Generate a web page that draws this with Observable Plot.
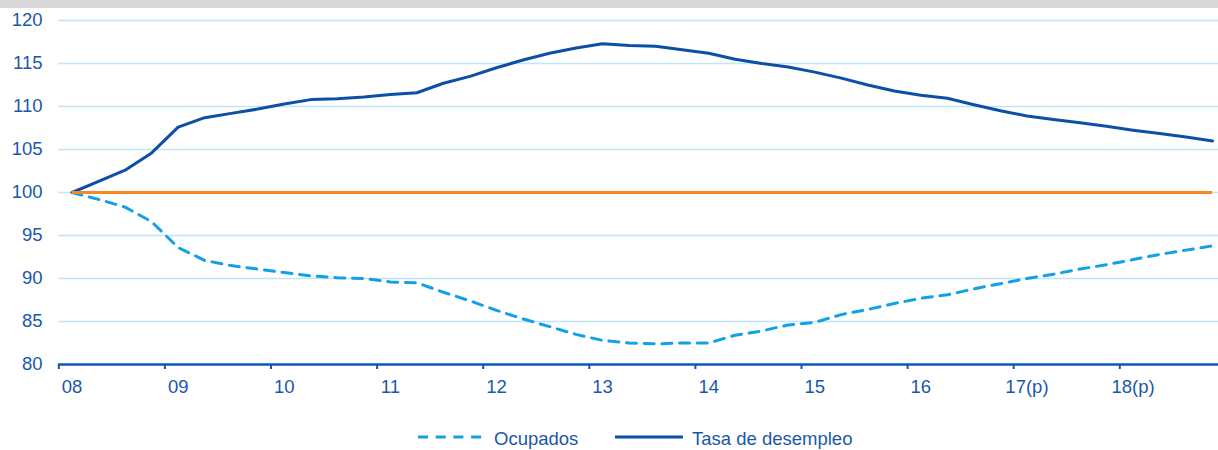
<!DOCTYPE html>
<html>
<head>
<meta charset="utf-8">
<script src="https://cdn.jsdelivr.net/npm/d3@7"></script>
<script src="https://cdn.jsdelivr.net/npm/@observablehq/plot@0.6"></script>
<style>
  html, body { margin: 0; padding: 0; }
  body { width: 1218px; height: 450px; overflow: hidden; background: #fff; position: relative;
         font-family: "Liberation Sans", Arial, sans-serif; }
  #band { height: 8px; background: #d9d9d9; }
  .lg { position: absolute; font-size: 18.5px; line-height: 18.5px; color: #1b57ab; white-space: nowrap; }
  .sw { position: absolute; }
</style>
</head>
<body>
<div id="band"></div>
<div id="chart"></div>
<svg class="sw" style="left:418px;top:433.7px" width="66" height="6"><line x1="0" x2="66" y1="3" y2="3" stroke="#12a0e6" stroke-width="3" stroke-dasharray="10,7.7"/></svg>
<div class="lg" style="left:494px;top:429.5px">Ocupados</div>
<svg class="sw" style="left:615px;top:433.7px" width="68" height="6"><line x1="0" x2="68" y1="3" y2="3" stroke="#0c4fa6" stroke-width="3"/></svg>
<div class="lg" style="left:692px;top:429.5px">Tasa de desempleo</div>
<script>
// Quarterly index, 2008Q1 = 100 (2008Q1 ... 2018Q4)
const yearLabels = ["08","09","10","11","12","13","14","15","16","17(p)","18(p)"];
const ocupados = [
  100.0, 99.2, 98.3, 96.6,
  93.6, 92.1, 91.5, 91.1,
  90.7, 90.3, 90.1, 90.0,
  89.6, 89.5, 88.4, 87.4,
  86.3, 85.3, 84.4, 83.5,
  82.8, 82.5, 82.4, 82.5,
  82.5, 83.4, 83.9, 84.6,
  84.9, 85.8, 86.4, 87.1,
  87.7, 88.1, 88.8, 89.4,
  90.0, 90.5, 91.1, 91.6,
  92.2, 92.8, 93.3, 93.8
];
const tasa = [
  100.0, 101.3, 102.6, 104.6,
  107.6, 108.7, 109.2, 109.7,
  110.3, 110.8, 110.9, 111.1,
  111.4, 111.6, 112.7, 113.5,
  114.5, 115.4, 116.2, 116.8,
  117.3, 117.1, 117.0, 116.6,
  116.2, 115.5, 115.0, 114.6,
  114.0, 113.3, 112.5, 111.8,
  111.3, 110.95, 110.2, 109.5,
  108.9, 108.5, 108.1, 107.7,
  107.25, 106.85, 106.45, 106.0
];
const baseValue = 100;
const yTicks = [80, 85, 90, 95, 100, 105, 110, 115, 120];

const textColor = "#1b57ab";
const axisColor = "#1556b4";
const nQ = tasa.length;
const labelPos = yearLabels.map((_, k) => k * 4);
const boundaries = yearLabels.map((_, k) => k * 4 - 0.5);

const chart = Plot.plot({
  width: 1218,
  height: 400,
  marginTop: 12,
  marginBottom: 44,
  marginLeft: 58,
  marginRight: 0,
  style: { fontFamily: '"Liberation Sans", Arial, sans-serif', fontSize: "18.5px", color: textColor, background: "transparent", overflow: "visible" },
  x: { domain: [-0.5, nQ - 0.5], range: [58.3, 58.3 + nQ * 26.525], axis: null },
  y: { domain: [80, 120], axis: null },
  marks: [
    Plot.gridY({ ticks: yTicks, stroke: "#bfe5f6", strokeOpacity: 1, strokeWidth: 1.3 }),
    Plot.axisY({ ticks: yTicks, tickSize: 0, tickPadding: 16, label: null, fill: textColor, fontSize: 18.5 }),
    Plot.lineY(ocupados, { x: (d, i) => i, y: d => d, stroke: "#12a0e6", strokeWidth: 3, strokeDasharray: "10,7.7" }),
    Plot.lineY(tasa, { x: (d, i) => i, y: d => d, stroke: "#0c4fa6", strokeWidth: 3 }),
    Plot.ruleY([baseValue], { x1: 0, x2: nQ - 1, stroke: "#f58b20", strokeWidth: 3 }),
    Plot.ruleY([80], { stroke: axisColor, strokeWidth: 2.6 }),
    Plot.axisX({ ticks: boundaries, tickSize: 5, tickFormat: () => "", stroke: axisColor, strokeWidth: 2, label: null }),
    Plot.axisX({ ticks: labelPos, tickSize: 0, tickPadding: 15.5, tickFormat: d => yearLabels[d / 4], label: null, fill: textColor, fontSize: 18.5 })
  ]
});
document.getElementById("chart").appendChild(chart);
</script>
</body>
</html>
